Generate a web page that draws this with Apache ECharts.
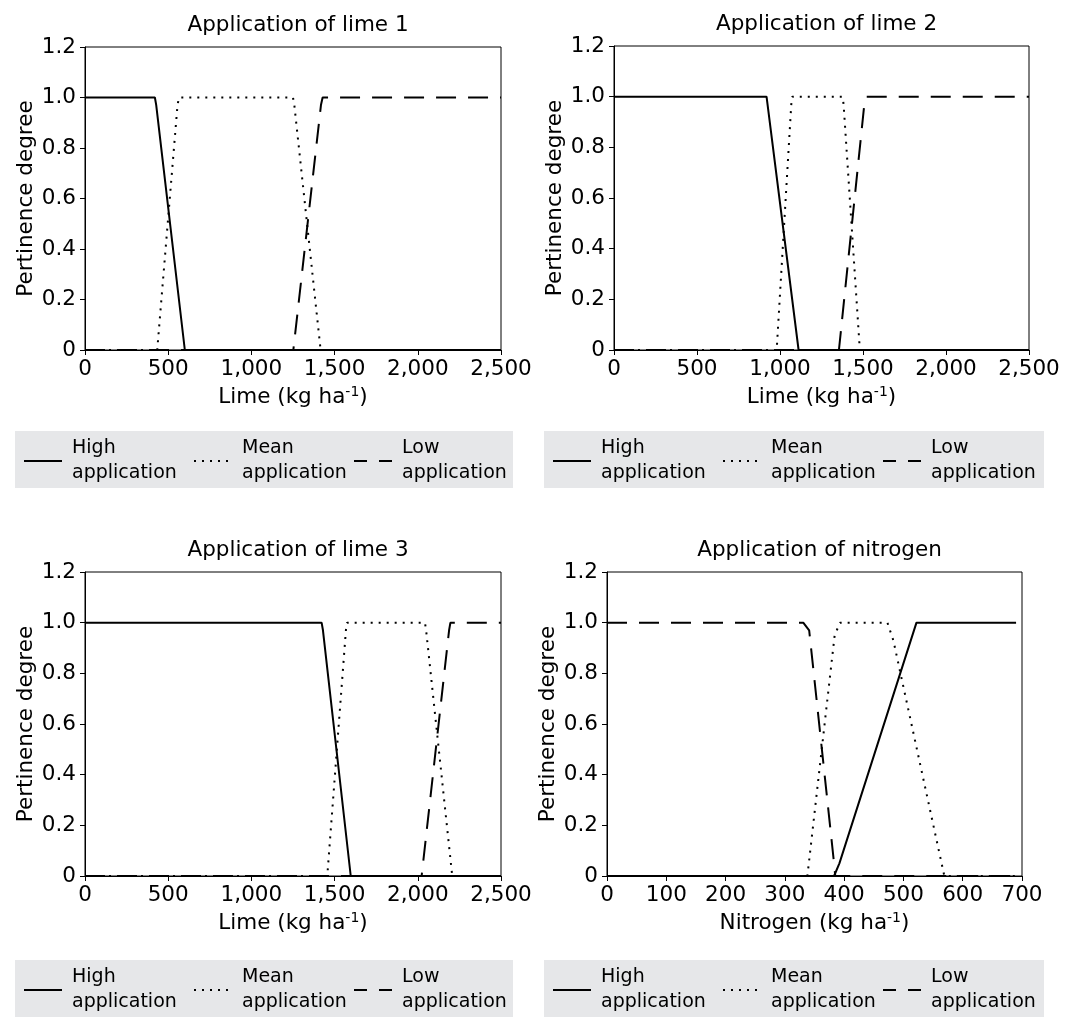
<!DOCTYPE html>
<html>
<head>
<meta charset="utf-8">
<script src="https://cdn.jsdelivr.net/npm/echarts@6/dist/echarts.min.js"></script>
<style>html,body{margin:0;padding:0;background:#fff;}#c{width:1078px;height:1021px;}</style>
</head>
<body>
<div id="c"></div>
<script>
// ---- data ([x, pertinence degree]) ----
const titles = ['Application of lime 1', 'Application of lime 2', 'Application of lime 3', 'Application of nitrogen'];
const xNames = ['Lime', 'Lime', 'Lime', 'Nitrogen'];
const xMax = [2500, 2500, 2500, 700];
const xInterval = [500, 500, 500, 100];
const yTicks = [0, 0.2, 0.4, 0.6, 0.8, 1.0, 1.2];
const seriesNames = ['High application', 'Mean application', 'Low application'];

const lime1High = [[0,1],[420,1],[428,0.97],[600,0],[2500,0]];
const lime1Mean = [[0,0],[434,0],[556,0.97],[565,1],[1250,1],[1258,0.97],[1416,0],[2500,0]];
const lime1Low  = [[0,0],[1252,0],[1418,0.97],[1428,1],[2500,1]];

const lime2High = [[0,1],[919,1],[1112,0],[2500,0]];
const lime2Mean = [[0,0],[980,0],[1068,0.97],[1074,1],[1377,1],[1383,0.97],[1481,0],[2500,0]];
const lime2Low  = [[0,0],[1355,0],[1508,0.97],[1522,1],[2500,1]];

const lime3High = [[0,1],[1422,1],[1430,0.97],[1597,0],[2500,0]];
const lime3Mean = [[0,0],[1456,0],[1568,0.97],[1575,1],[2043,1],[2050,0.97],[2207,0],[2500,0]];
const lime3Low  = [[0,0],[2023,0],[2188,0.97],[2196,1],[2500,1]];

const nitroHigh = [[0,0],[383,0],[392,0.05],[522,1],[690,1]];
const nitroMean = [[0,0],[338,0],[384,0.95],[393,1],[473,1],[483,0.93],[569,0],[690,0]];
const nitroLow  = [[0,1],[331,1],[341,0.97],[383,0.05],[385,0],[690,0]];

const panelData = [
  [lime1High, lime1Mean, lime1Low],
  [lime2High, lime2Mean, lime2Low],
  [lime3High, lime3Mean, lime3Low],
  [nitroHigh, nitroMean, nitroLow]
];

// ---- layout ----
const FONT = 'DejaVu Sans';
const FS = 21.5;
const grids = [
  {left: 85, top: 47, width: 416, height: 303},
  {left: 614, top: 46, width: 415, height: 304},
  {left: 85, top: 572, width: 416, height: 304},
  {left: 607, top: 572, width: 415, height: 304}
];
const boxes = [
  {x: 15, y: 431, w: 498, h: 57},
  {x: 544, y: 431, w: 500, h: 57},
  {x: 15, y: 960, w: 498, h: 57},
  {x: 544, y: 960, w: 500, h: 57}
];
const legendOffsets = [8, 178, 338];
const lineTypes = ['solid', [2, 6], [20, 12]];
const legendLineTypes = ['solid', [2, 6], [13, 12]];

const option = {
  animation: false,
  backgroundColor: '#fff',
  textStyle: {fontFamily: FONT, color: '#000'},
  title: [],
  grid: [],
  xAxis: [],
  yAxis: [],
  series: [],
  legend: [],
  graphic: []
};

grids.forEach((g, i) => {
  option.grid.push(Object.assign({show: true, borderColor: '#000', borderWidth: 1, containLabel: false}, g));
  option.title.push({
    text: titles[i],
    left: g.left + g.width / 2,
    textAlign: 'center',
    top: g.top - 38,
    textStyle: {fontFamily: FONT, fontSize: FS, fontWeight: 'normal', color: '#000'}
  });
  option.xAxis.push({
    type: 'value', gridIndex: i, min: 0, max: xMax[i], interval: xInterval[i],
    name: '{n|' + xNames[i] + ' (kg ha}{s|-1}{n|)}',
    nameLocation: 'middle', nameGap: 35,
    nameTextStyle: {rich: {
      n: {fontFamily: FONT, fontSize: FS, color: '#000', lineHeight: 25},
      s: {fontFamily: FONT, fontSize: 14, color: '#000', lineHeight: 14, verticalAlign: 'top'}
    }},
    axisLine: {show: true, lineStyle: {color: '#000', width: 1}},
    axisTick: {show: true, inside: false, length: 5, lineStyle: {color: '#000'}},
    axisLabel: {fontFamily: FONT, fontSize: FS, color: '#000', margin: 8,
      formatter: v => v.toLocaleString('en-US')},
    splitLine: {show: false}
  });
  option.yAxis.push({
    type: 'value', gridIndex: i, min: yTicks[0], max: yTicks[yTicks.length - 1], interval: 0.2,
    name: 'Pertinence degree', nameLocation: 'middle', nameGap: 47,
    nameTextStyle: {fontFamily: FONT, fontSize: FS, color: '#000'},
    axisLine: {show: true, lineStyle: {color: '#000', width: 1}},
    axisTick: {show: true, inside: false, length: 5, lineStyle: {color: '#000'}},
    axisLabel: {fontFamily: FONT, fontSize: FS, color: '#000', margin: 9,
      formatter: v => (Math.abs(v) < 1e-9 ? '0' : v.toFixed(1))},
    splitLine: {show: false}
  });
  panelData[i].forEach((d, k) => {
    option.series.push({
      type: 'line', name: seriesNames[k], xAxisIndex: i, yAxisIndex: i,
      data: d, symbol: 'none', showSymbol: false,
      lineStyle: {color: '#000', width: 2, type: lineTypes[k]},
      itemStyle: {color: '#000'}
    });
  });
  const b = boxes[i];
  option.graphic.push({
    type: 'rect', shape: {x: b.x, y: b.y, width: b.w, height: b.h},
    style: {fill: '#e6e7e9'}, z: -10, silent: true
  });
  seriesNames.forEach((nm, k) => {
    option.legend.push({
      data: [nm], left: b.x + legendOffsets[k], top: b.y + 5, padding: 0,
      orient: 'horizontal', itemWidth: 38, itemHeight: 16, selectedMode: false,
      itemStyle: {opacity: 0, borderWidth: 0},
      lineStyle: {type: legendLineTypes[k], width: 2, color: '#000'},
      formatter: name => name.replace(' ', '\n'),
      textStyle: {fontFamily: FONT, fontSize: 19, color: '#000', lineHeight: 25, padding: [0, 0, 0, 5]}
    });
  });
});

const chart = echarts.init(document.getElementById('c'), null, {renderer: 'canvas'});
chart.setOption(option);
</script>
</body>
</html>
